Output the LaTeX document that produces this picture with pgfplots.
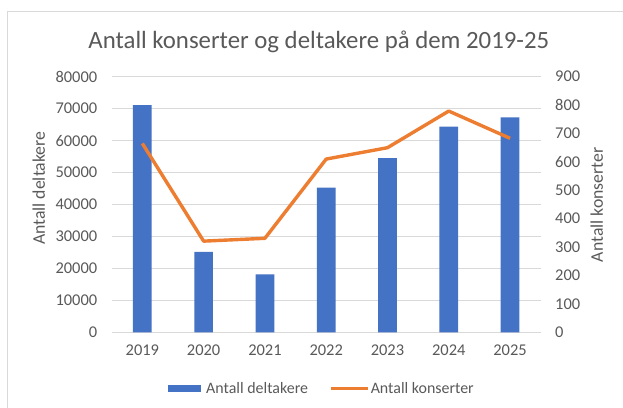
\documentclass[border=0pt]{standalone}
\usepackage{pgfplots}
\pgfplotsset{compat=1.18}
\usepackage{fontspec}
\setmainfont{Carlito}
\definecolor{barblue}{HTML}{4472C4}
\definecolor{lineorange}{HTML}{ED7D31}
\definecolor{txtgray}{HTML}{595959}
\definecolor{gridgray}{HTML}{D9D9D9}
\begin{document}
\begin{tikzpicture}[x=1bp,y=1bp]
\useasboundingbox (-111.7,-74.7) rectangle (511.3,332.3);
\draw[gridgray, line width=1bp] (-104.4,-80) -- (-104.4,320.8) -- (520,320.8);
\pgfplotsset{
  every axis/.append style={
    at={(0,0)}, anchor=south west,
    scale only axis, width=429bp, height=255.6bp,
    xmin=-0.5, xmax=6.5,
    xtick={0,...,6},
    xticklabels={2019,2020,2021,2022,2023,2024,2025},
    major tick length=0pt,
    tick label style={font=\fontsize{16.5}{18}\selectfont, text=txtgray},
    label style={font=\fontsize{17.8}{20}\selectfont, text=txtgray},
    /pgf/number format/assume math mode=true,
    /pgf/number format/1000 sep={},
    scaled y ticks=false,
  }
}
\begin{axis}[
  ymin=0, ymax=80000,
  ytick={0,10000,...,80000},
  axis x line*=bottom, axis y line*=left,
  x axis line style={gridgray, line width=1bp},
  y axis line style={draw=none},
  ymajorgrids, grid style={gridgray, line width=1bp},
  yticklabel style={xshift=-11bp},
  xticklabel style={yshift=-9bp},
  ylabel={Antall deltakere},
  ylabel style={at={(-73bp,144bp)}, anchor=center, rotate=0},
]
\addplot[ybar, bar width=0.305, fill=barblue, draw=none] coordinates {
  (0,71100) (1,25200) (2,18100) (3,45300) (4,54500) (5,64400) (6,67300)
};
\end{axis}
\begin{axis}[
  ymin=0, ymax=900,
  ytick={0,100,...,900},
  axis x line=none, axis y line*=right,
  y axis line style={draw=none},
  yticklabel style={xshift=11bp},
  ylabel={Antall konserter},
  ylabel style={at={(485bp,127.5bp)}, anchor=center, rotate=0},
  legend style={at={(209.8bp,-56bp)}, anchor=center, draw=none, fill=none,
    legend columns=2, font=\fontsize{16}{18}\selectfont, text=txtgray,
    /tikz/every even column/.append style={column sep=20bp},
    nodes={inner xsep=1bp, inner ysep=1bp}},
  legend cell align=left,
]
\addlegendimage{legend image code/.code={\fill[barblue, draw=none] (0bp,-3.5bp) rectangle (33bp,3.5bp); \path[draw=none, fill=none] (0bp,0bp) -- (37bp,0bp);}}
\addlegendentry{Antall deltakere}
\addplot[lineorange, line width=3.4bp, line join=round, no marks,
  legend image code/.code={\draw[lineorange, line width=3.4bp] (0bp,0bp) -- (37bp,0bp); \path[draw=none, fill=none] (0bp,0bp) -- (39bp,0bp);}]
  coordinates {
  (0,665) (1,321) (2,331) (3,610) (4,650) (5,779) (6,683)
};
\addlegendentry{Antall konserter}
\end{axis}
\node[font=\fontsize{24.9}{28}\selectfont, text=txtgray] at (207.1,290.6) {Antall konserter og deltakere på dem 2019-25};
\end{tikzpicture}
\end{document}
